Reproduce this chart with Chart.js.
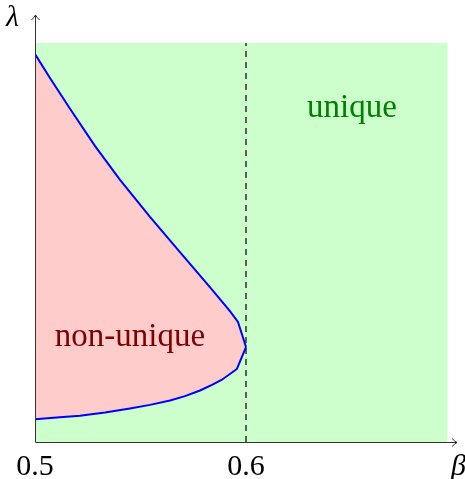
<!DOCTYPE html>
<html>
<head>
<meta charset="utf-8">
<script src="https://cdn.jsdelivr.net/npm/chart.js@4/dist/chart.umd.min.js"></script>
<style>
html,body{margin:0;padding:0;background:#fff;}
#wrap{width:465px;height:479px;position:relative;}
</style>
</head>
<body>
<div id="wrap"><canvas id="c" width="465" height="479"></canvas></div>
<script>
// Upper branch of the boundary curve (beta, lambda)
const upperBeta   = [0.5, 0.5071, 0.5166, 0.5284, 0.5403, 0.5545, 0.5687, 0.5829, 0.5924, 0.5962, 0.6];
const upperLambda = [0.972, 0.912, 0.835, 0.742, 0.657, 0.564, 0.476, 0.388, 0.328, 0.301, 0.238];
// Lower branch of the boundary curve
const lowerBeta   = [0.5, 0.5118, 0.5213, 0.5332, 0.5450, 0.5545, 0.5640, 0.5711, 0.5782, 0.5839, 0.5886, 0.5957, 0.6];
const lowerLambda = [0.057, 0.062, 0.066, 0.074, 0.084, 0.093, 0.104, 0.115, 0.129, 0.143, 0.156, 0.183, 0.238];
// Region extents
const regionBeta = [0.5, 0.6956];
const regionLambda = [1, 1];
const criticalBeta = 0.6;
const xTicks = [0.5, 0.6];
const xTickLabels = ['0.5', '0.6'];
const regionLabels = ['unique', 'non-unique'];
const regionLabelPos = [[0.6502, 0.837], [0.545, 0.262]];

const toPts = (xs, ys) => xs.map((x, i) => ({x, y: ys[i]}));

const serif = '"Liberation Serif", "DejaVu Serif", serif';

const overlay = {
  id: 'overlay',
  afterDatasetsDraw(chart) {
    const ctx = chart.ctx;
    const xs = chart.scales.x, ys = chart.scales.y;
    const a = chart.chartArea;
    ctx.save();
    // axes
    ctx.strokeStyle = '#333';
    ctx.lineWidth = 1;
    const x0 = Math.round(xs.getPixelForValue(0.5)) + 0.5;
    const y0 = Math.round(ys.getPixelForValue(0)) + 0.5;
    ctx.beginPath();
    ctx.moveTo(x0, y0); ctx.lineTo(a.right, y0);
    ctx.moveTo(x0, y0); ctx.lineTo(x0, a.top);
    ctx.stroke();
    // arrow heads
    ctx.beginPath();
    ctx.moveTo(a.right - 5, y0 - 4); ctx.quadraticCurveTo(a.right - 2, y0 - 1, a.right, y0);
    ctx.quadraticCurveTo(a.right - 2, y0 + 1, a.right - 5, y0 + 4);
    ctx.moveTo(x0 - 4, a.top + 5); ctx.quadraticCurveTo(x0 - 1, a.top + 2, x0, a.top);
    ctx.quadraticCurveTo(x0 + 1, a.top + 2, x0 + 4, a.top + 5);
    ctx.stroke();
    // tick labels
    ctx.fillStyle = '#000';
    ctx.font = '30px ' + serif;
    ctx.textAlign = 'center';
    ctx.textBaseline = 'alphabetic';
    xTicks.forEach((v, i) => {
      ctx.fillText(xTickLabels[i], xs.getPixelForValue(v), 475);
    });
    // axis titles
    ctx.font = 'italic 30px ' + serif;
    ctx.textAlign = 'left';
    ctx.fillText('β', 451, 475);
    ctx.fillText('λ', 6, 26);
    // region labels
    ctx.font = '33px ' + serif;
    ctx.textAlign = 'center';
    ctx.textBaseline = 'middle';
    ctx.fillStyle = '#008000';
    ctx.fillText(regionLabels[0], xs.getPixelForValue(regionLabelPos[0][0]), ys.getPixelForValue(regionLabelPos[0][1]));
    ctx.fillStyle = '#800000';
    ctx.fillText(regionLabels[1], xs.getPixelForValue(regionLabelPos[1][0]), ys.getPixelForValue(regionLabelPos[1][1]));
    ctx.restore();
  }
};

new Chart(document.getElementById('c'), {
  type: 'line',
  data: {
    datasets: [
      {
        label: 'upper',
        data: toPts(upperBeta, upperLambda),
        borderColor: '#0000ff',
        borderWidth: 2,
        backgroundColor: 'rgb(255,204,204)',
        fill: '+1',
        pointRadius: 0,
        tension: 0
      },
      {
        label: 'lower',
        data: toPts(lowerBeta, lowerLambda),
        borderColor: '#0000ff',
        borderWidth: 2,
        fill: false,
        pointRadius: 0,
        tension: 0
      },
      {
        label: 'critical',
        data: [{x: criticalBeta, y: 0}, {x: criticalBeta, y: 1}],
        borderColor: '#000',
        borderWidth: 1.2,
        borderDash: [6, 5],
        fill: false,
        pointRadius: 0
      },
      {
        label: 'region',
        data: toPts(regionBeta, regionLambda),
        borderWidth: 0,
        borderColor: 'rgba(0,0,0,0)',
        backgroundColor: 'rgb(204,255,204)',
        fill: 'origin',
        pointRadius: 0
      }
    ]
  },
  options: {
    responsive: false,
    animation: false,
    events: [],
    layout: {padding: {left: 35, right: 8, top: 15, bottom: 37}},
    scales: {
      x: {type: 'linear', min: 0.5, max: 0.7, display: false},
      y: {type: 'linear', min: 0, max: 1.07, display: false}
    },
    plugins: {
      legend: {display: false},
      tooltip: {enabled: false},
      filler: {drawTime: 'beforeDatasetsDraw'}
    }
  },
  plugins: [overlay]
});
</script>
</body>
</html>
